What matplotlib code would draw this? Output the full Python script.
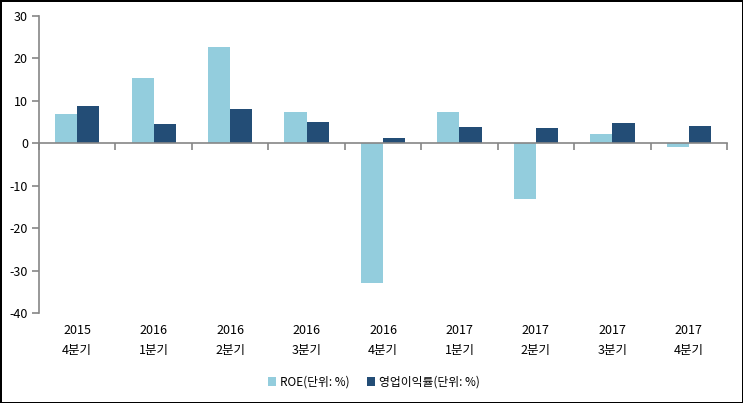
import numpy as np
import matplotlib.pyplot as plt
from matplotlib.transforms import blended_transform_factory

plt.rcParams['font.family'] = ['Noto Sans CJK KR', 'DejaVu Sans']
plt.rcParams['axes.unicode_minus'] = False

# data
years = ["2015", "2016", "2016", "2016", "2016", "2017", "2017", "2017", "2017"]
quarters = ["4분기", "1분기", "2분기", "3분기", "4분기", "1분기", "2분기", "3분기", "4분기"]
roe = [6.8, 15.3, 22.6, 7.3, -33.0, 7.3, -13.2, 2.1, -0.9]
op_margin = [8.7, 4.5, 8.0, 5.0, 1.2, 3.8, 3.5, 4.7, 4.0]

light = "#93CDDD"
dark = "#234D76"
grey = "#868686"

fig = plt.figure(figsize=(7.43, 4.03), dpi=100)
fig.patch.set_edgecolor("black")
fig.patch.set_linewidth(2)
ax = fig.add_axes([0.0525, 0.2233, 0.926, 0.737])

x = np.arange(len(roe))
w = 0.29
ax.bar(x - w / 2, roe, w, color=light, label="ROE(단위: %)")
ax.bar(x + w / 2, op_margin, w, color=dark, label="영업이익률(단위: %)")

ax.set_xlim(-0.5, len(roe) - 0.5)
ax.set_ylim(-40, 30)
ax.set_yticks(range(-40, 31, 10))

for s in ["top", "right"]:
    ax.spines[s].set_visible(False)
ax.spines["left"].set_color(grey)
ax.spines["bottom"].set_color(grey)
ax.spines["bottom"].set_position(("data", 0))
ax.spines["left"].set_linewidth(1.2)
ax.spines["bottom"].set_linewidth(1.2)

ax.set_xticks(np.arange(-0.5, len(roe), 1.0))
ax.tick_params(axis="x", direction="out", length=5, color=grey, width=1.2, labelbottom=False)
ax.tick_params(axis="y", direction="out", length=5, color=grey, width=1.2, labelsize=9, pad=3)

# category labels below the plot area
trans = blended_transform_factory(ax.transData, ax.transAxes)
for i in range(len(roe)):
    ax.text(x[i], -0.06, years[i], transform=trans, ha="center", va="center", fontsize=9)
    ax.text(x[i], -0.125, quarters[i], transform=trans, ha="center", va="center", fontsize=9)

fig.legend(loc="center", bbox_to_anchor=(0.503, 0.052), ncol=2, frameon=False,
           fontsize=8.5, handlelength=0.7, handleheight=0.7, handletextpad=0.3,
           columnspacing=1.5)

fig.savefig("out.png", dpi=100)
